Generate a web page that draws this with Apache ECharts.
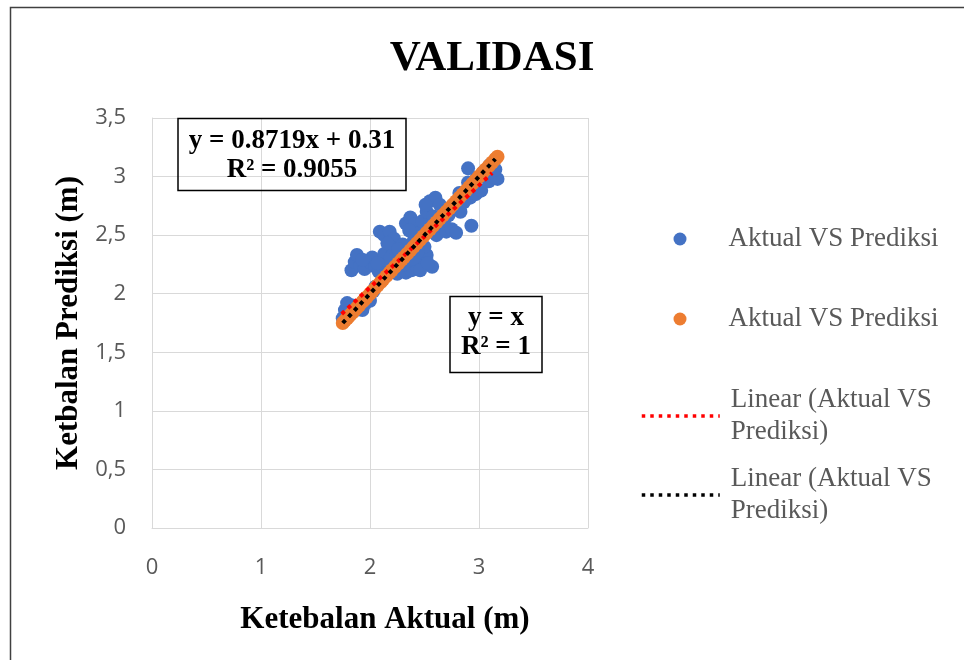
<!DOCTYPE html>
<html>
<head>
<meta charset="utf-8">
<script src="https://cdn.jsdelivr.net/npm/echarts@6/dist/echarts.min.js"></script>
<style>
html,body{margin:0;padding:0;background:#fff;}
#chart{width:964px;height:660px;}
</style>
</head>
<body>
<div id="chart"></div>
<script>
// ---- Data ----
const xTicks = [0, 1, 2, 3, 4];
const yTicks = [0, 0.5, 1, 1.5, 2, 2.5, 3, 3.5];

const aktualVsPrediksi = [
  [1.75,1.79],[1.77,1.86],[1.79,1.92],[1.82,1.84],[1.84,1.90],[1.87,1.86],[1.90,1.88],[1.93,1.86],[1.95,1.91],[1.98,1.96],[2.00,1.94],[2.03,2.02],[2.05,2.06],
  [1.83,2.20],[1.86,2.27],[1.88,2.33],[1.91,2.24],[1.95,2.21],[1.99,2.27],[2.02,2.31],[2.05,2.23],[2.08,2.19],[2.11,2.28],[2.13,2.34],[2.16,2.24],[2.19,2.31],
  [1.93,2.29],[2.07,2.26],[2.15,2.18],
  [2.09,2.53],[2.13,2.50],[2.18,2.53],[2.22,2.47],[2.21,2.39],[2.16,2.43],
  [2.20,2.19],[2.25,2.17],[2.29,2.22],[2.33,2.18],[2.38,2.20],[2.42,2.24],[2.47,2.28],[2.52,2.33],[2.57,2.23],[2.50,2.40],[2.44,2.36],[2.27,2.30],[2.35,2.28],[2.40,2.45],[2.30,2.42],
  [2.31,2.25],[2.40,2.30],[2.46,2.20],[2.53,2.26],[2.26,2.38],
  [2.33,2.60],[2.37,2.65],[2.41,2.59],[2.45,2.52],[2.48,2.62],[2.36,2.54],
  [2.52,2.70],[2.55,2.79],[2.60,2.82],[2.64,2.76],[2.58,2.66],[2.51,2.76],
  [2.61,2.50],[2.66,2.58],[2.70,2.53],[2.75,2.55],[2.79,2.52],[2.72,2.67],[2.78,2.74],[2.83,2.70],[2.68,2.62],
  [2.93,2.58],
  [2.82,2.86],[2.87,2.84],[2.92,2.82],[2.97,2.85],[3.02,2.88],[2.90,2.95],[2.98,2.99],[2.86,2.78],
  [2.90,3.07],[3.04,3.04],[3.09,2.96],[3.14,3.00],[3.17,2.98],[3.15,3.06],[3.10,3.10]
];

const aktualVsAktual = [
  [1.75,1.75],[1.77,1.77],[1.79,1.79],[1.80,1.80],[1.82,1.82],[1.84,1.84],[1.86,1.86],[1.88,1.88],[1.90,1.90],[1.93,1.93],
  [1.95,1.95],[1.97,1.97],[2.00,2.00],[2.02,2.02],[2.05,2.05],[2.07,2.07],[2.10,2.10],[2.12,2.12],[2.15,2.15],[2.18,2.18],
  [2.20,2.20],[2.23,2.23],[2.26,2.26],[2.29,2.29],[2.31,2.31],[2.34,2.34],[2.37,2.37],[2.40,2.40],[2.43,2.43],[2.46,2.46],
  [2.49,2.49],[2.52,2.52],[2.55,2.55],[2.58,2.58],[2.61,2.61],[2.64,2.64],[2.67,2.67],[2.70,2.70],[2.73,2.73],[2.76,2.76],
  [2.79,2.79],[2.82,2.82],[2.85,2.85],[2.88,2.88],[2.91,2.91],[2.94,2.94],[2.97,2.97],[3.00,3.00],[3.03,3.03],[3.06,3.06],
  [3.09,3.09],[3.12,3.12],[3.15,3.15],[3.17,3.17]
];

const trendPrediksi = [[1.74,1.827],[3.12,3.030]];   // y = 0.8719x + 0.31
const trendAktual = [[1.75,1.75],[3.15,3.15]];       // y = x

const seriesNames = ['Aktual VS Prediksi', 'Aktual VS Prediksi ', 'Linear (Aktual VS\nPrediksi)', 'Linear (Aktual VS\nPrediksi) '];
const eqText1 = ['y = 0.8719x + 0.31', 'R² = 0.9055'];
const eqText2 = ['y = x', 'R² = 1'];
const titleText = 'VALIDASI';
const xName = 'Ketebalan Aktual (m)';
const yName = 'Ketbalan Prediksi (m)';

// ---- Chart ----
const SERIF = "'Liberation Serif','Times New Roman',serif";
const SANS = "'Open Sans','Liberation Sans',sans-serif";
const EQFONT = "bold 27px 'Liberation Serif','Times New Roman',serif";
const chart = echarts.init(document.getElementById('chart'), null, {renderer: 'canvas'});

const option = {
  animation: false,
  backgroundColor: '#ffffff',
  title: {
    text: titleText,
    left: 487,
    top: 32,
    textAlign: 'center',
    textStyle: {fontFamily: SERIF, fontWeight: 'bold', fontSize: 43, color: '#000'}
  },
  grid: {left: 152, top: 118, right: 376, bottom: 132, containLabel: false},
  xAxis: {
    type: 'value', min: xTicks[0], max: xTicks[xTicks.length - 1], interval: 1,
    name: xName, nameLocation: 'middle', nameGap: 76,
    nameTextStyle: {fontFamily: SERIF, fontWeight: 'bold', fontSize: 31, color: '#000', padding: [0, 0, 0, 30]},
    axisLine: {show: true, lineStyle: {color: '#d9d9d9', width: 1}},
    axisTick: {show: false},
    splitLine: {show: true, lineStyle: {color: '#d9d9d9', width: 1}},
    axisLabel: {fontFamily: SANS, fontSize: 22, color: '#595959', margin: 29}
  },
  yAxis: {
    type: 'value', min: yTicks[0], max: yTicks[yTicks.length - 1], interval: 0.5,
    name: yName, nameLocation: 'middle', nameGap: 68, nameRotate: 90,
    nameTextStyle: {fontFamily: SERIF, fontWeight: 'bold', fontSize: 31, color: '#000'},
    axisLine: {show: true, lineStyle: {color: '#d9d9d9', width: 1}},
    axisTick: {show: false},
    splitLine: {show: true, lineStyle: {color: '#d9d9d9', width: 1}},
    axisLabel: {fontFamily: SANS, fontSize: 22, color: '#595959', margin: 26,
      formatter: v => String(v).replace('.', ',')}
  },
  legend: [
    {
      data: [seriesNames[0], seriesNames[1]],
      orient: 'vertical', left: 668.5, top: 218,
      itemWidth: 13, itemHeight: 13, itemGap: 48,
      icon: 'circle',
      textStyle: {fontFamily: SERIF, fontSize: 27, color: '#595959', lineHeight: 32, padding: [0, 0, 0, 37]},
      selectedMode: false
    },
    {
      data: [seriesNames[2], seriesNames[3]],
      orient: 'vertical', left: 635, top: 379,
      itemWidth: 78, itemHeight: 14, itemGap: 15,
      itemStyle: {opacity: 0},
      lineStyle: {width: 3.5, type: [3.5, 5]},
      textStyle: {fontFamily: SERIF, fontSize: 27, color: '#595959', lineHeight: 32, padding: [0, 0, 0, 6]},
      selectedMode: false
    }
  ],
  series: [
    {
      name: seriesNames[0], type: 'scatter', data: aktualVsPrediksi,
      symbol: 'circle', symbolSize: 14,
      itemStyle: {color: '#4472C4', opacity: 1}
    },
    {
      name: seriesNames[1], type: 'scatter', data: aktualVsAktual,
      symbol: 'circle', symbolSize: 14,
      itemStyle: {color: '#ED7D31', opacity: 1}
    },
    {
      name: seriesNames[2], type: 'line', data: trendPrediksi, z: 5,
      showSymbol: false, symbol: 'none',
      lineStyle: {color: '#FF0000', width: 4, type: [4, 4.5]},
      itemStyle: {color: '#FF0000'}
    },
    {
      name: seriesNames[3], type: 'line', data: trendAktual, z: 6,
      showSymbol: false, symbol: 'none',
      lineStyle: {color: '#000000', width: 4, type: [4, 4.5]},
      itemStyle: {color: '#000000'}
    }
  ],
  graphic: [
    {type: 'rect', silent: true, shape: {x: 10.5, y: 7.5, width: 1000, height: 700},
     style: {fill: 'none', stroke: '#404040', lineWidth: 1.5}},
    {type: 'rect', silent: true, z: 100, shape: {x: 178, y: 118.5, width: 228, height: 72},
     style: {fill: 'none', stroke: '#000', lineWidth: 1.5}},
    {type: 'text', z: 100, silent: true, style: {text: eqText1[0], x: 292, y: 141, align: 'center', verticalAlign: 'middle', font: EQFONT, fill: '#000'}},
    {type: 'text', z: 100, silent: true, style: {text: eqText1[1], x: 292, y: 170, align: 'center', verticalAlign: 'middle', font: EQFONT, fill: '#000'}},
    {type: 'rect', silent: true, z: 100, shape: {x: 450, y: 296.5, width: 92, height: 76},
     style: {fill: 'none', stroke: '#000', lineWidth: 1.5}},
    {type: 'text', z: 100, silent: true, style: {text: eqText2[0], x: 496, y: 318, align: 'center', verticalAlign: 'middle', font: EQFONT, fill: '#000'}},
    {type: 'text', z: 100, silent: true, style: {text: eqText2[1], x: 496, y: 347, align: 'center', verticalAlign: 'middle', font: EQFONT, fill: '#000'}}
  ]
};
chart.setOption(option);
</script>
</body>
</html>
